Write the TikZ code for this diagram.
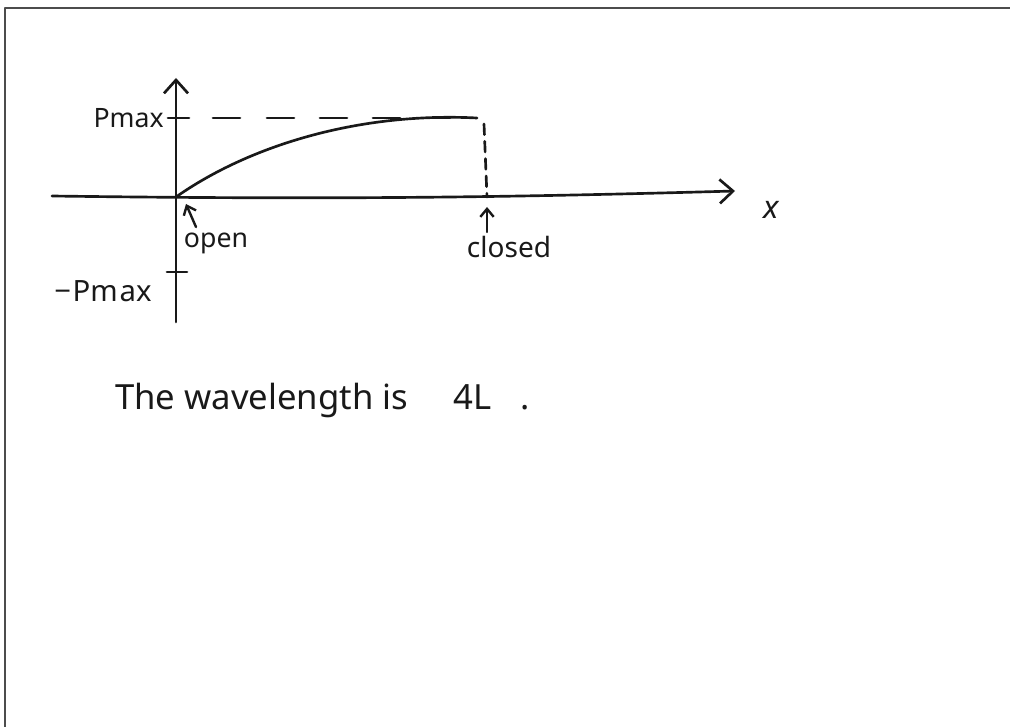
\documentclass[tikz,border=0pt]{standalone}
\usepackage{fontspec}
\setmainfont{Noto Sans}
\usetikzlibrary{arrows.meta}
\begin{document}
\begin{tikzpicture}[x=0.75pt,y=-0.75pt, line cap=round, line join=round,
  ink/.style={line width=2pt, black!90},
  bigtip/.style={-{Straight Barb[length=10pt,width=18pt,line width=2pt]}},
  smalltip/.style={-{Straight Barb[length=6pt,width=10pt,line width=1.8pt]}},
  lbl/.style={font=\fontsize{20}{24}\selectfont, inner sep=0pt, text=black!90}]
\useasboundingbox (0,0) rectangle (1010,727);
\draw[line width=1.5pt, black!70] (5,727) -- (5,8) -- (1010,8);
% axes
\coordinate (O) at (176,197);
\coordinate (ytop) at (176,78);
\coordinate (ybot) at (176,322);
\coordinate (xl) at (52,196);
\coordinate (xr) at (735,191);
\draw[ink, bigtip] (ybot) -- (ytop);
\draw[ink, bigtip] (xl) .. controls (350,200) and (520,197) .. (xr);
\node[lbl, font=\fontsize{24}{28}\selectfont\itshape\bfseries] (xlab) at (771,210) {x};
% ticks and labels
\coordinate (t1a) at (168,118); \coordinate (t1b) at (189,118);
\coordinate (t2a) at (167,272); \coordinate (t2b) at (187,272);
\draw[ink] (t1a) -- (t1b);
\draw[ink] (t2a) -- (t2b);
\node[lbl, anchor=east] (pmax) at (164,118) {Pmax};
\node[lbl, anchor=east, font=\fontsize{22}{26}\selectfont] (mpmax) at (152,291) {−\hspace{1pt}Pm\hspace{1.5pt}ax};
% dashed envelope
\coordinate (d2) at (477,118);
\coordinate (d3) at (484,124);
\coordinate (d4) at (487,197);
\foreach \a in {213,267,320,373,423}
  \draw[ink] (\a,118) -- ++(27,0);
\draw[ink, dash pattern=on 8pt off 5pt] (d3) -- (d4);
% curve
\draw[ink] (O) .. controls (250,145) and (360,112) .. (d2);
% open / closed
\node[lbl] (open) at (216,243) {open};
\node[lbl, font=\fontsize{21}{25}\selectfont] (closed) at (509,247) {closed};
\coordinate (opentip) at (186,204);
\coordinate (closedtip) at (487,207);
\draw[ink, line width=1.8pt, smalltip] (196,227) -- (opentip);
\draw[ink, line width=1.8pt, smalltip] (487,232) -- (closedtip);
% sentence
\node[inner sep=0pt, anchor=west, text=black!90, font=\fontsize{26}{30}\selectfont] (sent) at (115,400) {The wavelength is\hspace{34pt}4L\hspace{22pt}.};
\end{tikzpicture}
\end{document}
